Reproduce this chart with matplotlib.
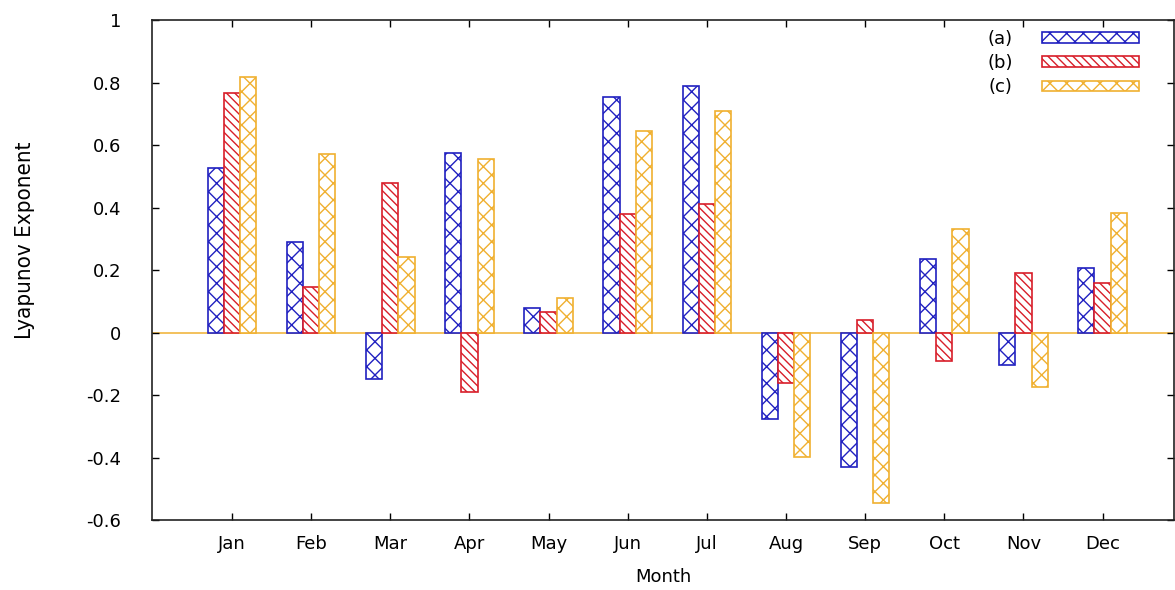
import numpy as np
import matplotlib
matplotlib.use("Agg")
import matplotlib.pyplot as plt
from matplotlib.ticker import FuncFormatter

months = ["Jan", "Feb", "Mar", "Apr", "May", "Jun", "Jul", "Aug", "Sep", "Oct", "Nov", "Dec"]
series_a = [0.528, 0.29, -0.15, 0.576, 0.08, 0.755, 0.79, -0.276, -0.43, 0.235, -0.105, 0.208]
series_b = [0.768, 0.147, 0.48, -0.19, 0.065, 0.38, 0.41, -0.16, 0.04, -0.09, 0.19, 0.16]
series_c = [0.819, 0.57, 0.243, 0.555, 0.11, 0.645, 0.71, -0.397, -0.545, 0.33, -0.175, 0.384]
labels = ["(a)", "(b)", "(c)"]

blue = "#2020c0"
red = "#d81e2a"
orange = "#f0b030"

plt.rcParams["font.family"] = ["DejaVu Sans"]
plt.rcParams["hatch.linewidth"] = 1.0

fig = plt.figure(figsize=(11.75, 5.9), dpi=100)
ax = fig.add_axes([0.1294, 0.1186, 0.8696, 0.8474])

x = np.arange(len(months))
w = 0.205
ax.bar(x - w, series_a, w, facecolor="white", edgecolor=blue, hatch="xx", lw=1.2, label=labels[0])
ax.bar(x, series_b, w, facecolor="white", edgecolor=red, hatch="\\\\\\\\", lw=1.2, label=labels[1])
ax.bar(x + w, series_c, w, facecolor="white", edgecolor=orange, hatch="xx", lw=1.2, label=labels[2])
ax.axhline(0, color=orange, lw=1.1, zorder=0.5)

ax.set_xlim(-1.01, 11.9)
ax.set_ylim(-0.6, 1.0)
ax.set_xticks(x)
ax.set_xticklabels(months)
ax.set_yticks(np.arange(-0.6, 1.01, 0.2))
ax.yaxis.set_major_formatter(FuncFormatter(lambda v, p: "%g" % round(v, 1)))
ax.tick_params(direction="in", length=5, width=1, top=True, right=True, labelsize=13)
ax.tick_params(axis="y", pad=22)
ax.tick_params(axis="x", pad=11)
for s in ax.spines.values():
    s.set_linewidth(1.2)
    s.set_color("#222222")

fig.text(663 / 1175, 1 - 577 / 590, "Month", fontsize=13, ha="center", va="center")
fig.text(25 / 1175, 1 - 240 / 590, "Lyapunov Exponent", fontsize=16, rotation=90,
         ha="center", va="center", fontstretch="condensed",
         family=["DejaVu Sans Condensed", "DejaVu Sans"])

ax.legend(loc="upper right", bbox_to_anchor=(0.966, 0.98), frameon=False, markerfirst=False,
          borderpad=0, borderaxespad=0,
          handlelength=5.4, handleheight=0.55, fontsize=13, labelspacing=0.34, handletextpad=1.6)

fig.savefig("out.png", dpi=100)
